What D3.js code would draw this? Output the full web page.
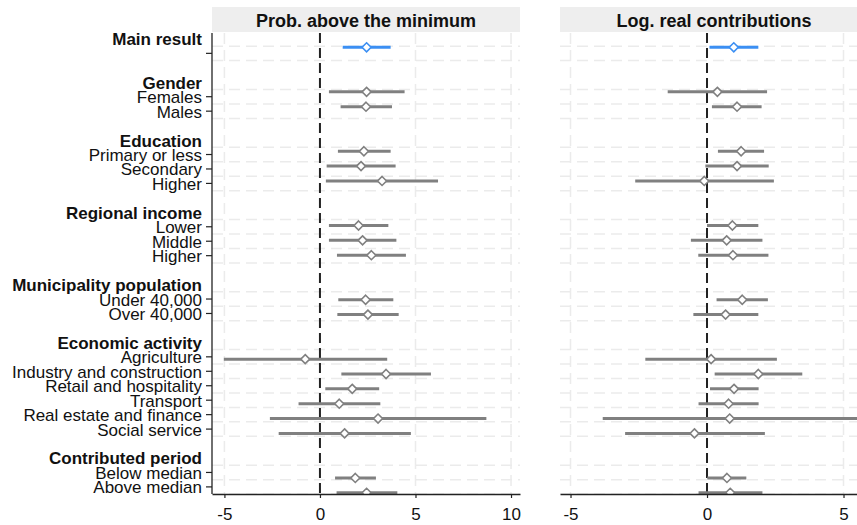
<!DOCTYPE html>
<html>
<head>
<meta charset="utf-8">
<script src="https://cdn.jsdelivr.net/npm/d3@7"></script>
<style>
  html, body { margin: 0; padding: 0; background: #fff; }
  svg { display: block; font-family: "Liberation Sans", Arial, sans-serif; }
</style>
</head>
<body>
<svg id="chart" width="857" height="525"></svg>
<script>
// ---------------- DATA ----------------
const groupNames = ["Main result", "Gender", "Education", "Regional income",
  "Municipality population", "Economic activity", "Contributed period"];
const categories = ["", "Females", "Males", "Primary or less", "Secondary", "Higher",
  "Lower", "Middle", "Higher", "Under 40,000", "Over 40,000",
  "Agriculture", "Industry and construction", "Retail and hospitality", "Transport",
  "Real estate and finance", "Social service", "Below median", "Above median"];
const categoryGroup = [0, 1, 1, 2, 2, 2, 3, 3, 3, 4, 4, 5, 5, 5, 5, 5, 5, 6, 6];

const panelTitles = ["Prob. above the minimum", "Log. real contributions"];

const probEst = [2.44, 2.44, 2.41, 2.30, 2.15, 3.25, 2.02, 2.23, 2.69, 2.39, 2.51, -0.77, 3.46, 1.69, 1.01, 3.04, 1.29, 1.85, 2.44];
const probLo  = [1.19, 0.47, 1.08, 0.94, 0.35, 0.31, 0.47, 0.47, 0.89, 0.96, 0.91, -5.03, 1.12, 0.28, -1.12, -2.62, -2.16, 0.79, 0.87];
const probHi  = [3.70, 4.43, 3.77, 3.70, 3.96, 6.18, 3.58, 4.00, 4.50, 3.84, 4.12, 3.52, 5.81, 3.10, 3.16, 8.71, 4.76, 2.93, 4.05];

const logEst = [0.98, 0.38, 1.10, 1.25, 1.10, -0.10, 0.93, 0.72, 0.95, 1.29, 0.68, 0.15, 1.88, 0.99, 0.79, 0.83, -0.46, 0.73, 0.85];
const logLo  = [0.09, -1.44, 0.18, 0.40, -0.06, -2.63, 0.00, -0.59, -0.32, 0.35, -0.50, -2.26, 0.28, 0.11, -0.31, -3.82, -3.00, 0.01, -0.31];
const logHi  = [1.88, 2.20, 2.00, 2.09, 2.26, 2.45, 1.88, 2.03, 2.25, 2.23, 1.88, 2.56, 3.49, 1.89, 1.89, 6.20, 2.12, 1.44, 2.03];

const probTicks = [-5, 0, 5, 10];
const logTicks = [-5, 0, 5];

// ---------------- LAYOUT (row structure) ----------------
const headerRows = [];
const coefRows = [];
let rowIdx = 0;
groupNames.forEach((g, gi) => {
  headerRows.push({ row: rowIdx, name: g });
  rowIdx++;
  categories.forEach((c, ci) => {
    if (categoryGroup[ci] === gi) { coefRows[ci] = rowIdx; rowIdx++; }
  });
  rowIdx++;
});
const lastRow = rowIdx - 2;

const svg = d3.select("#chart");
const plotTop = 33, plotBottom = 494;

const yTick = d3.scaleLinear().domain([0, lastRow]).range([38.9, 486.9]);
const yPt = d3.scaleLinear().domain([0, lastRow]).range([32.45, 492.8]);

const panels = [
  { title: panelTitles[0], x0: 212, x1: 520, domain: [-5.65, 10.47], ticks: probTicks, est: probEst, lo: probLo, hi: probHi },
  { title: panelTitles[1], x0: 560, x1: 868, domain: [-5.385, 5.897], ticks: logTicks, est: logEst, lo: logLo, hi: logHi }
];

const gridColor = "#ebebeb";
const ciGrey = "#808080";
const blue = "#3b8ff3";

const half = (yTick(1) - yTick(0)) / 2;
const gridYs = new Set();
coefRows.forEach(rr => {
  gridYs.add((yTick(rr) - half).toFixed(2));
  gridYs.add((yTick(rr) + half).toFixed(2));
});

panels.forEach((p, pi) => {
  const x = d3.scaleLinear().domain(p.domain).range([p.x0, p.x1]);
  const g = svg.append("g");

  g.append("clipPath").attr("id", "clip" + pi)
    .append("rect").attr("x", p.x0).attr("y", plotTop).attr("width", p.x1 - p.x0).attr("height", plotBottom - plotTop);

  g.append("rect").attr("x", p.x0).attr("y", 7).attr("width", p.x1 - p.x0).attr("height", 25)
    .attr("fill", "#eeeeee");
  g.append("text").attr("x", (p.x0 + p.x1) / 2).attr("y", 26.5)
    .attr("text-anchor", "middle").attr("font-weight", "bold").attr("font-size", 18)
    .attr("fill", "#111").text(p.title);

  const plot = g.append("g").attr("clip-path", `url(#clip${pi})`);

  Array.from(gridYs).forEach(v => {
    plot.append("line").attr("x1", p.x0).attr("x2", p.x1).attr("y1", +v).attr("y2", +v)
      .attr("stroke", gridColor).attr("stroke-width", 1.5).attr("stroke-dasharray", "11,6");
  });
  p.ticks.filter(t => t !== 0).forEach(t => {
    plot.append("line").attr("x1", x(t)).attr("x2", x(t)).attr("y1", plotTop).attr("y2", plotBottom)
      .attr("stroke", gridColor).attr("stroke-width", 1.5).attr("stroke-dasharray", "11,6");
  });

  plot.append("line").attr("x1", x(0)).attr("x2", x(0)).attr("y1", plotTop).attr("y2", plotBottom)
    .attr("stroke", "#222").attr("stroke-width", 2).attr("stroke-dasharray", "10,5");

  const idx = categories.map((c, i) => i);
  plot.selectAll("line.ci").data(idx).join("line")
    .attr("class", "ci")
    .attr("x1", i => x(p.lo[i])).attr("x2", i => x(p.hi[i]))
    .attr("y1", i => yPt(coefRows[i])).attr("y2", i => yPt(coefRows[i]))
    .attr("stroke", i => i === 0 ? blue : ciGrey).attr("stroke-width", 3);

  plot.selectAll("path.mk").data(idx).join("path")
    .attr("class", "mk")
    .attr("d", "M0,-4.5L4.5,0L0,4.5L-4.5,0Z")
    .attr("transform", i => `translate(${x(p.est[i])},${yPt(coefRows[i])})`)
    .attr("fill", "#fff")
    .attr("stroke", i => i === 0 ? blue : ciGrey).attr("stroke-width", 1.6);

  const xAxis = d3.axisBottom(x).tickValues(p.ticks).tickSize(4).tickSizeOuter(0);
  const ax = g.append("g").attr("transform", `translate(0,${plotBottom})`).call(xAxis);
  ax.select(".domain").attr("stroke", "#222").attr("stroke-width", 1.3);
  ax.selectAll(".tick line").attr("stroke", "#222").attr("stroke-width", 1.2);
  ax.selectAll(".tick text").attr("font-size", 17).attr("fill", "#111")
    .attr("font-family", "'Liberation Sans', Arial, sans-serif").attr("dy", null).attr("y", 26)
    .text(d => d < 0 ? "-" + Math.abs(d) : String(d));
});

const yAxisG = svg.append("g");
yAxisG.append("line").attr("x1", 212).attr("x2", 212).attr("y1", plotTop).attr("y2", plotBottom)
  .attr("stroke", "#222").attr("stroke-width", 1.3);
coefRows.forEach((rr, ci) => {
  yAxisG.append("line").attr("x1", 206).attr("x2", 212).attr("y1", yTick(rr)).attr("y2", yTick(rr))
    .attr("stroke", "#222").attr("stroke-width", 1.2);
  if (categories[ci]) {
    yAxisG.append("text").attr("x", 202).attr("y", yTick(rr) + 6.5)
      .attr("text-anchor", "end").attr("font-size", 17).attr("fill", "#111").text(categories[ci]);
  }
});
headerRows.forEach(h => {
  yAxisG.append("text").attr("x", 202).attr("y", yTick(h.row) + 6.5)
    .attr("text-anchor", "end").attr("font-size", 17).attr("font-weight", "bold")
    .attr("fill", "#111").text(h.name);
});
</script>
</body>
</html>
